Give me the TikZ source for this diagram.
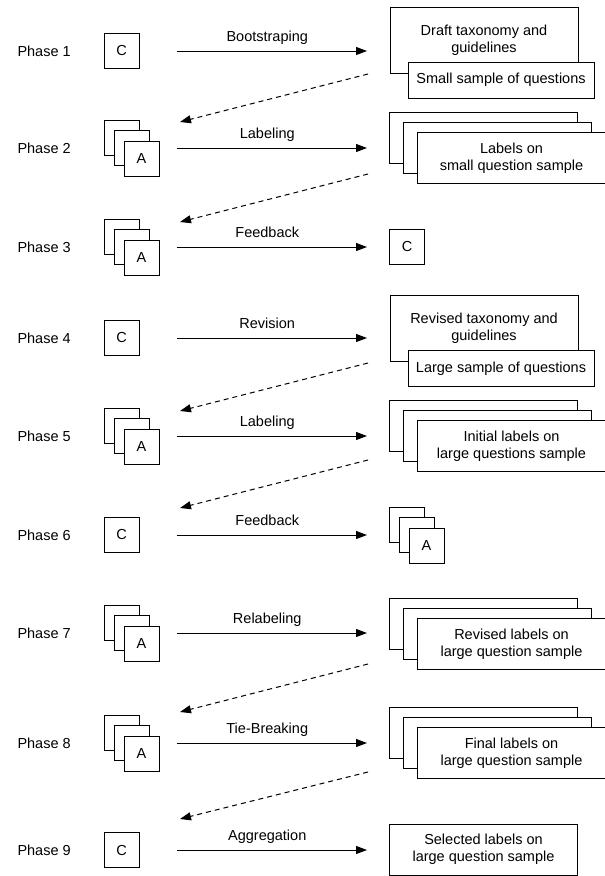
\documentclass[tikz,border=0pt]{standalone}
\usepackage{fontspec}
\setmainfont{Liberation Sans}
\usetikzlibrary{arrows.meta,calc,shadows}

\begin{document}
\begin{tikzpicture}[
    x=1pt,
    y=-1pt,
    line width=1pt,
    font=\fontsize{14.5}{17}\selectfont,
    phase/.style={anchor=west,inner sep=0pt},
    role/.style={draw,fill=white,minimum width=35pt,minimum height=35pt,inner sep=0pt},
    team/.style={role,
      copy shadow={shadow xshift=-20pt,shadow yshift=21pt,line width=1pt},
      copy shadow={shadow xshift=-10pt,shadow yshift=10.5pt,line width=1pt}},
    doc/.style={draw,fill=white,align=center,minimum width=188pt,minimum height=51pt,inner sep=2pt},
    docs/.style={doc,
      copy shadow={shadow xshift=-28pt,shadow yshift=20pt,line width=1pt},
      copy shadow={shadow xshift=-14pt,shadow yshift=10pt,line width=1pt}},
    fwd/.style={-{Triangle[length=11pt,width=8pt]}},
    bwd/.style={fwd,dash pattern=on 5pt off 4pt},
    lbl/.style={pos=0.475,above=3pt,text depth=3pt}
    ]

    \useasboundingbox (0,0) rectangle (605,876);

    \node[phase] (p1) at (17,51) {Phase 1};
    \node[role] (c1) at (121.5,51) {C};
    \node[doc,minimum height=66pt] (d1) at (484,40) {Draft taxonomy and\\guidelines};
    \node[doc,minimum width=186pt,minimum height=36pt] (q1) at (501,80) {Small sample of questions};

    \node[phase] (p2) at (17,148) {Phase 2};
    \node[team] (c2) at (141.5,158.5) {A};
    \node[docs] (d2) at (511.5,158) {Labels on\\small question sample};

    \node[phase] (p3) at (17,247) {Phase 3};
    \node[team] (c3) at (141.5,257.5) {A};
    \node[role] (d3) at (407,246.5) {C};

    \node[phase] (p4) at (17,338) {Phase 4};
    \node[role] (c4) at (121.5,338) {C};
    \node[doc,minimum height=66pt] (d4) at (484,328) {Revised taxonomy and\\guidelines};
    \node[doc,minimum width=186pt,minimum height=36pt] (q4) at (501,368.5) {Large sample of questions};

    \node[phase] (p5) at (17,436) {Phase 5};
    \node[team] (c5) at (141.5,446.5) {A};
    \node[docs] (d5) at (511.5,446) {Initial labels on\\large questions sample};

    \node[phase] (p6) at (17,535) {Phase 6};
    \node[role] (c6) at (121.5,535) {C};
    \node[team] (d6) at (426.5,545.5) {A};

    \node[phase] (p7) at (17,633) {Phase 7};
    \node[team] (c7) at (141.5,643.5) {A};
    \node[docs] (d7) at (511.5,644) {Revised labels on\\large question sample};

    \node[phase] (p8) at (17,743) {Phase 8};
    \node[team] (c8) at (141.5,753.5) {A};
    \node[docs] (d8) at (511.5,753) {Final labels on\\large question sample};

    \node[phase] (p9) at (17,850) {Phase 9};
    \node[role] (c9) at (121.5,850) {C};
    \node[doc] (d9) at (483.5,849.5) {Selected labels on\\large question sample};

    \coordinate (s1) at (177,51);  \coordinate (t1) at (367,51);
    \coordinate (s2) at (177,148); \coordinate (t2) at (367,148);
    \coordinate (s3) at (177,247); \coordinate (t3) at (367,247);
    \coordinate (s4) at (177,338); \coordinate (t4) at (367,338);
    \coordinate (s5) at (177,436); \coordinate (t5) at (367,436);
    \coordinate (s6) at (177,535); \coordinate (t6) at (367,535);
    \coordinate (s7) at (177,633); \coordinate (t7) at (367,633);
    \coordinate (s8) at (177,743); \coordinate (t8) at (367,743);
    \coordinate (s9) at (177,850); \coordinate (t9) at (367,850);

    \path[fwd]
      (s1) edge node[lbl] {Bootstraping} (t1)
      (s2) edge node[lbl] {Labeling} (t2)
      (s3) edge node[lbl] {Feedback} (t3)
      (s4) edge node[lbl] {Revision} (t4)
      (s5) edge node[lbl] {Labeling} (t5)
      (s6) edge node[lbl] {Feedback} (t6)
      (s7) edge node[lbl] {Relabeling} (t7)
      (s8) edge node[lbl] {Tie-Breaking} (t8)
      (s9) edge node[lbl] {Aggregation} (t9);

    \draw[bwd] ($(t1)+(1,23)$) -- ($(s2)+(3,-26)$);
    \draw[bwd] ($(t2)+(1,26)$) -- ($(s3)+(3,-25)$);
    \draw[bwd] ($(t4)+(1,25)$) -- ($(s5)+(3,-25)$);
    \draw[bwd] ($(t5)+(1,24)$) -- ($(s6)+(3,-27)$);
    \draw[bwd] ($(t7)+(1,31)$) -- ($(s8)+(3,-31)$);
    \draw[bwd] ($(t8)+(1,29)$) -- ($(s9)+(3,-31)$);
\end{tikzpicture}
\end{document}
